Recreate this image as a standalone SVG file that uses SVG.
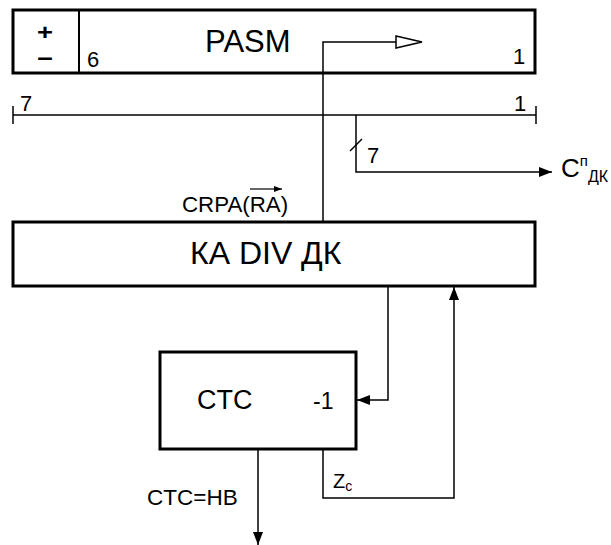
<svg xmlns="http://www.w3.org/2000/svg" width="611" height="545" viewBox="0 0 611 545">
<style>
  .box { fill: #fff; stroke: #000; stroke-width: 3; }
  .ln { fill: none; stroke: #000; stroke-width: 1.5; }
  text { font-family: "Liberation Sans", Arial, sans-serif; fill: #000; }
  .sign { font-size: 22px; font-weight: bold; }
</style>
<defs>
  <marker id="fa" viewBox="0 0 13 10" refX="13" refY="5" markerWidth="13" markerHeight="10" markerUnits="userSpaceOnUse" orient="auto">
    <path d="M0,0 L13,5 L0,10 Z" fill="#000"/>
  </marker>
  <marker id="ha" viewBox="0 0 8 6" refX="8" refY="3" markerWidth="8" markerHeight="6" markerUnits="userSpaceOnUse" orient="auto">
    <path d="M0,0 L8,3 L0,6 Z" fill="#000"/>
  </marker>
</defs>
<rect width="611" height="545" fill="#fff"/>

<g id="pasm">
  <rect class="box" x="13" y="10" width="522" height="63"/>
  <line x1="79" y1="10" x2="79" y2="73" stroke="#000" stroke-width="2"/>
  <text class="sign" x="37" y="40" textLength="16" lengthAdjust="spacingAndGlyphs">+</text>
  <text class="sign" x="37" y="65.5" textLength="16" lengthAdjust="spacingAndGlyphs">−</text>
  <text x="87" y="67" font-size="22">6</text>
  <text x="205" y="52" font-size="31">PASM</text>
  <text x="513" y="64" font-size="22">1</text>
</g>

<g id="scale">
  <line x1="13" y1="115" x2="536" y2="115" class="ln"/>
  <line x1="13" y1="106" x2="13" y2="124" class="ln"/>
  <line x1="536" y1="106" x2="536" y2="124" class="ln"/>
  <text x="20" y="111" font-size="22">7</text>
  <text x="514" y="111" font-size="22">1</text>
</g>

<g id="kadiv">
  <rect class="box" x="13" y="222" width="522" height="64"/>
  <text x="190" y="264" font-size="32">КА DIV ДК</text>
</g>

<g id="ctc">
  <rect class="box" x="160" y="352" width="196" height="97"/>
  <text x="197" y="409" font-size="27">CTC</text>
  <text x="313" y="409" font-size="23">-1</text>
</g>

<g id="connectors">
  <polyline class="ln" points="323,222 323,42 396,42"/>
  <polygon points="396,36 422,42 396,48" fill="#fff" stroke="#000" stroke-width="1.5"/>
  <polyline class="ln" points="356,115 356,172 552,172" marker-end="url(#fa)"/>
  <line x1="350" y1="151" x2="362" y2="139" class="ln"/>
  <polyline class="ln" points="388,286 388,400 357,400" marker-end="url(#fa)"/>
  <polyline class="ln" points="323,449 323,498 454,498 454,287" marker-end="url(#fa)"/>
  <line x1="258" y1="449" x2="258" y2="545" class="ln" marker-end="url(#fa)"/>
  <line x1="250" y1="189" x2="282" y2="189" stroke="#000" stroke-width="1.2" marker-end="url(#ha)"/>
</g>

<g id="labels">
  <text x="182" y="212" font-size="22.3">CRPA(RA)</text>
  <text x="367" y="163" font-size="22">7</text>
  <text x="561" y="177" font-size="26">C<tspan font-size="15" dy="-11">п</tspan><tspan font-size="16" dy="16">ДК</tspan></text>
  <text x="333" y="488" font-size="20">Z<tspan font-size="14" dy="3">c</tspan></text>
  <text x="147" y="505" font-size="22.5">CTC=HB</text>
</g>
</svg>
